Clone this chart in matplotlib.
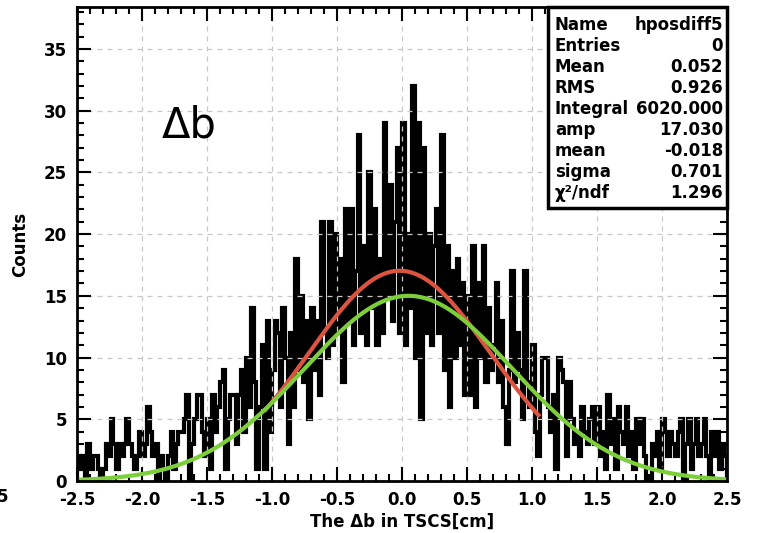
import numpy as np
import matplotlib
matplotlib.use("Agg")
import matplotlib.pyplot as plt
from matplotlib.patches import Rectangle
from matplotlib.ticker import MultipleLocator

# histogram of delta b, 250 bins of 0.02 cm from -2.5 to 2.5
counts = [
    2, 1, 2, 0, 3, 1, 2, 2, 1, 0,
    1, 3, 2, 5, 3, 1, 3, 2, 3, 5,
    3, 2, 1, 2, 4, 2, 3, 6, 4, 2,
    3, 0, 2, 1, 0, 2, 4, 1, 3, 4,
    4, 5, 7, 0, 3, 5, 7, 7, 4, 2,
    5, 1, 7, 4, 6, 8, 9, 1, 5, 7,
    7, 3, 7, 9, 4, 10, 6, 14, 8, 1,
    6, 11, 1, 13, 4, 9, 13, 12, 6, 14,
    10, 3, 12, 6, 18, 9, 15, 8, 13, 5,
    14, 9, 13, 7, 21, 12, 10, 21, 11, 20,
    12, 18, 8, 22, 13, 22, 11, 17, 28, 12,
    19, 11, 25, 14, 22, 11, 18, 12, 29, 15,
    24, 13, 21, 27, 12, 29, 11, 20, 14, 32,
    10, 29, 5, 27, 12, 20, 11, 19, 22, 12,
    28, 9, 19, 6, 17, 10, 18, 11, 16, 7,
    15, 7, 19, 6, 16, 10, 19, 8, 14, 9,
    11, 16, 8, 13, 6, 3, 9, 17, 8, 12,
    9, 5, 17, 8, 6, 11, 4, 2, 7, 10,
    10, 6, 4, 7, 1, 10, 9, 8, 2, 8,
    5, 3, 4, 2, 6, 4, 3, 5, 6, 3,
    6, 2, 4, 1, 7, 3, 5, 1, 6, 4,
    3, 6, 2, 4, 1, 5, 3, 5, 2, 0,
    0, 3, 2, 4, 1, 5, 4, 2, 4, 3,
    2, 4, 5, 0, 3, 5, 1, 3, 5, 2,
    3, 5, 2, 0, 4, 2, 4, 1, 3, 2,
]
edges = np.linspace(-2.5, 2.5, len(counts) + 1)

# fit (red) and reference gaussian (green)
fit_amp, fit_mean, fit_sigma = 17.030, -0.018, 0.701
fit_range = (-1.05, 1.05)
ref_amp, ref_mean, ref_sigma = 15.0, 0.05, 0.80

stats_names = ["Name", "Entries", "Mean", "RMS", "Integral", "amp", "mean", "sigma", "\u03c7\u00b2/ndf"]
stats_vals = ["hposdiff5", "0", "0.052", "0.926", "6020.000", "17.030", "-0.018", "0.701", "1.296"]

plt.rcParams['font.family'] = 'DejaVu Sans'
plt.rcParams['axes.unicode_minus'] = False

fig = plt.figure(figsize=(7.59, 5.33), dpi=100)
ax = fig.add_axes([0.1014, 0.0976, 0.8564, 0.8893])

ax.stairs(counts, edges, color='black', lw=3)

xf = np.linspace(fit_range[0], fit_range[1], 300)
ax.plot(xf, fit_amp * np.exp(-(xf - fit_mean)**2 / (2 * fit_sigma**2)), color='#dc5440', lw=3)
xr = np.linspace(-2.5, 2.5, 400)
ax.plot(xr, ref_amp * np.exp(-(xr - ref_mean)**2 / (2 * ref_sigma**2)), color='#7ccf3a', lw=3)

ax.set_xlim(-2.5, 2.5)
ax.set_ylim(0, 38.4)
ax.xaxis.set_major_locator(MultipleLocator(0.5))
ax.xaxis.set_minor_locator(MultipleLocator(0.1))
ax.yaxis.set_major_locator(MultipleLocator(5))
ax.yaxis.set_minor_locator(MultipleLocator(1))
ax.tick_params(which='both', direction='in', top=True, right=True, width=1.5)
ax.tick_params(which='major', length=10, labelsize=12, pad=7)
ax.tick_params(which='minor', length=5)
for lbl in ax.get_xticklabels() + ax.get_yticklabels():
    lbl.set_fontweight('bold')
ax.grid(True, which='major', linestyle=(0, (4, 4)), color='#c8c8c8', lw=0.9)
for sp in ax.spines.values():
    sp.set_linewidth(2)

ax.set_xlabel('The \u0394b in TSCS[cm]', fontsize=12, fontweight='bold', labelpad=3)
ax.set_ylabel('Counts', fontsize=12, fontweight='bold', labelpad=11)

ax.text(-1.846, 28.8, '\u0394b', fontsize=30, ha='left', va='center')

# stats box
fig.patches.append(Rectangle((548 / 759, 1 - 208 / 533), 179 / 759, 201 / 533,
                             transform=fig.transFigure, facecolor='white',
                             edgecolor='black', lw=2.5, zorder=5))
for i, (n, v) in enumerate(zip(stats_names, stats_vals)):
    y = 1 - (25 + 21 * i) / 533
    fig.text(555 / 759, y, n, fontsize=12, fontweight='bold', ha='left', va='center', zorder=6)
    fig.text(723 / 759, y, v, fontsize=12, fontweight='bold', ha='right', va='center', zorder=6)

fig.text(-0.004, 1 - 497 / 533, '5', fontsize=12, fontweight='bold', ha='left', va='center')

fig.savefig('out.png', dpi=100)
